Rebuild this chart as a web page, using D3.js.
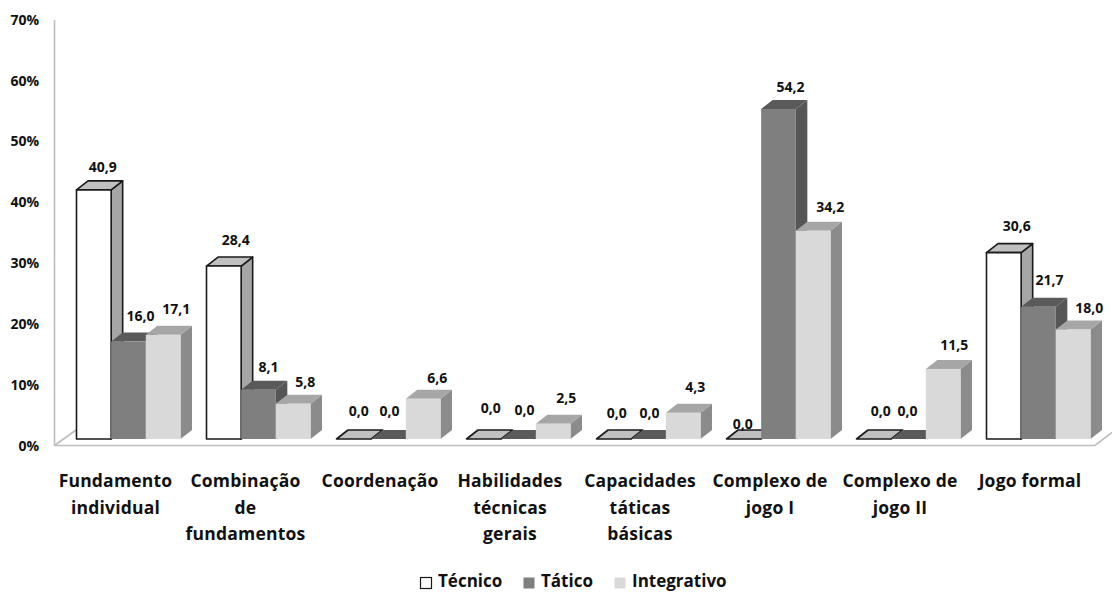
<!DOCTYPE html>
<html lang="pt">
<head>
<meta charset="utf-8">
<title>Distribuição dos conteúdos</title>
<script src="https://cdn.jsdelivr.net/npm/d3@7/dist/d3.min.js"></script>
<style>
  html, body { margin: 0; background: #fff; }
  svg { display: block; }
  text { font-family: "Open Sans", "Noto Sans", sans-serif; font-weight: 700; fill: #111; }
</style>
</head>
<body>
<svg id="chart" width="1112" height="592"></svg>
<script>
// Categories, one list of lines per group
const categories = [
  ["Fundamento", "individual"],
  ["Combinação", "de", "fundamentos"],
  ["Coordenação"],
  ["Habilidades", "técnicas", "gerais"],
  ["Capacidades", "táticas", "básicas"],
  ["Complexo de", "jogo I"],
  ["Complexo de", "jogo II"],
  ["Jogo formal"]
];
const seriesNames = ["Técnico", "Tático", "Integrativo"];
const tecnico     = [40.9, 28.4, 0.0, 0.0, 0.0, 0.0, 0.0, 30.6];
const tatico      = [16.0, 8.1, 0.0, 0.0, 0.0, 54.2, 0.0, 21.7];
const integrativo = [17.1, 5.8, 6.6, 2.5, 4.3, 34.2, 11.5, 18.0];
const yTicks = [0, 10, 20, 30, 40, 50, 60, 70];

// Shading of each series: front, top and side faces, plus outline
const faces = [
  { front: "#ffffff", top: "#c0c0c0", side: "#a6a6a6", stroke: "#1a1a1a", strokeWidth: 1.6 },
  { front: "#7f7f7f", top: "#5a5a5a", side: "#565656", stroke: "none", strokeWidth: 0 },
  { front: "#d9d9d9", top: "#a6a6a6", side: "#8b8b8b", stroke: "none", strokeWidth: 0 }
];

// Hand placement of the value labels relative to each bar's top
const labelDx = [
  [9, 12, 13], [12, 10, 12], [5, 1, 14], [7, 6, 13],
  [3, 1, 12], [-1, 12, 17], [7, -1, 11], [13, 11, 16]
];
const labelDy = [
  [-22, -25, -25], [-26, -22, -21], [-28, -28, -20], [-31, -29, -25],
  [-26, -26, -25], [-15, -21, -23], [-28, -28, -23], [-26, -26, -21]
];
// Horizontal shift of each category label from the centre of its group
const categoryDx = [-13, -13, -8.5, -8.5, -8.5, -8.5, -8.5, -8.5];

const svg = d3.select("#chart");
const depthX = 11.5, depthY = 9;
const floorY = 445, barBase = 439;

const x0 = d3.scaleBand().domain(d3.range(categories.length)).range([76.5, 1090.5]).paddingInner(0.2).paddingOuter(0);
const x1 = d3.scaleBand().domain(d3.range(seriesNames.length)).range([0, x0.bandwidth()]);
const y = d3.scaleLinear().domain([0, 70]).range([barBase, barBase - 70 * 6.09]);

// Back wall and floor
const frame = svg.append("g").attr("fill", "none").attr("stroke", "#bdbdbd").attr("stroke-width", 1.6);
frame.append("path").attr("d", d3.line()([[54.5, 20], [54.5, floorY + 0.5], [1095, floorY + 0.5], [1112, 432.5]]));
frame.append("path").attr("d", d3.line()([[54.5, floorY + 0.5], [76, 430]]));

// Percent axis; its labels sit on the front edge of the floor
const axis = d3.axisLeft(y).tickValues(yTicks).tickFormat(d => d + "%").tickSize(0).tickPadding(0);
const axisG = svg.append("g").attr("transform", `translate(39,${floorY - barBase + 1})`).call(axis);
axisG.select(".domain").remove();
axisG.selectAll("text").style("font-size", "14px").style("font-family", null);
axisG.attr("font-family", null).attr("font-size", null);

// Flatten into one record per bar, drawn left to right so later faces overlap earlier sides
const seriesValues = [tecnico, tatico, integrativo];
const bars = [];
categories.forEach((_, g) => seriesValues.forEach((vals, s) => bars.push({ g, s, v: vals[g] })));

const barG = svg.selectAll("g.bar").data(bars).join("g").attr("class", "bar");
const poly = pts => d3.line()(pts) + "Z";

barG.each(function (d) {
  const sel = d3.select(this);
  const f = faces[d.s];
  const w = x1.bandwidth();
  const xL = x0(d.g) + x1(d.s), xR = xL + w;
  const yT = y(d.v), yB = y(0);
  const style = p => p.attr("stroke", f.stroke).attr("stroke-width", f.strokeWidth).attr("stroke-linejoin", "round");
  if (d.v > 0) {
    style(sel.append("path").attr("d", poly([[xR, yT], [xR + depthX, yT - depthY], [xR + depthX, yB - depthY], [xR, yB]])).attr("fill", f.side));
  }
  style(sel.append("path").attr("d", poly([[xL, yT], [xL + depthX, yT - depthY], [xR + depthX, yT - depthY], [xR, yT]])).attr("fill", f.top));
  if (d.v > 0) {
    style(sel.append("rect").attr("x", xL).attr("y", yT).attr("width", w).attr("height", yB - yT).attr("fill", f.front));
  }
});

// Value labels with a decimal comma
const fmt = v => v.toFixed(1).replace(".", ",");
svg.selectAll("text.value").data(bars).join("text")
  .attr("class", "value")
  .attr("text-anchor", "middle")
  .attr("font-size", 14)
  .attr("x", d => x0(d.g) + x1(d.s) + x1.bandwidth() / 2 + labelDx[d.g][d.s])
  .attr("y", d => y(d.v) + labelDy[d.g][d.s] + 4.5)
  .text(d => fmt(d.v));

// Category labels, up to three stacked lines
const catG = svg.selectAll("g.cat").data(categories).join("g").attr("class", "cat")
  .attr("transform", (d, i) => `translate(${x0(i) + x0.bandwidth() / 2 + categoryDx[i]},0)`);
catG.selectAll("text").data(d => d).join("text")
  .attr("text-anchor", "middle")
  .attr("font-size", 17.5)
  .attr("letter-spacing", 0.2)
  .attr("y", (d, i) => 487 + i * 26.5)
  .text(d => d);

// Legend along the bottom edge
const legendX = [420, 523, 614];
const legend = svg.selectAll("g.legend").data(seriesNames).join("g").attr("class", "legend")
  .attr("transform", (d, i) => `translate(${legendX[i]},577)`);
legend.append("rect")
  .attr("x", 0.5).attr("y", 0.5).attr("width", 11).attr("height", 11)
  .attr("fill", (d, i) => faces[i].front)
  .attr("stroke", (d, i) => i === 0 ? "#1a1a1a" : "none")
  .attr("stroke-width", 1.2);
legend.append("text").attr("x", 18).attr("y", 10).attr("font-size", 17).text(d => d);
</script>
</body>
</html>
